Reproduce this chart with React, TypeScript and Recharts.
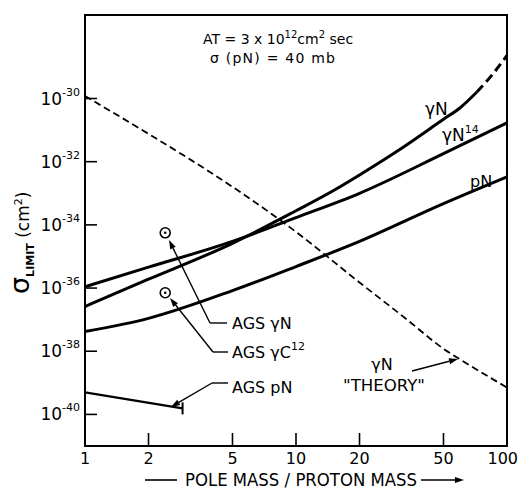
import React from "react";
import { ComposedChart, Line, Scatter, XAxis, YAxis, ReferenceArea } from "recharts";

// pole mass / proton mass on x, sigma limit (cm^2) on y
const X_TICKS = [1, 2, 5, 10, 20, 50, 100];
const Y_TICKS = [1e-30, 1e-32, 1e-34, 1e-36, 1e-38, 1e-40];
const Y_MIN = 1e-41;
const Y_MAX = 4.4e-28;

const GAMMA_N = [
  { m: 1, s: 2.6e-37 },
  { m: 2, s: 1.9e-36 },
  { m: 5, s: 2.6e-35 },
  { m: 10, s: 2.8e-34 },
  { m: 15, s: 1.2e-33 },
  { m: 20, s: 3.8e-33 },
  { m: 30, s: 2.1e-32 },
  { m: 50, s: 2.2e-31 },
  { m: 60, s: 5.1e-31 },
  { m: 72, s: 1.6e-30 },
];
const GAMMA_N_EXTRAP = [
  { m: 72, s: 1.6e-30 },
  { m: 85, s: 5.6e-30 },
  { m: 100, s: 2.3e-29 },
];
const GAMMA_N14 = [
  { m: 1, s: 1.1e-36 },
  { m: 2, s: 4.6e-36 },
  { m: 5, s: 3.0e-35 },
  { m: 10, s: 1.7e-34 },
  { m: 20, s: 1.0e-33 },
  { m: 50, s: 1.8e-32 },
  { m: 100, s: 1.7e-31 },
];
const P_N = [
  { m: 1, s: 4.2e-38 },
  { m: 2, s: 1.1e-37 },
  { m: 5, s: 8.3e-37 },
  { m: 10, s: 4.8e-36 },
  { m: 20, s: 3.0e-35 },
  { m: 50, s: 4.7e-34 },
  { m: 100, s: 3.3e-33 },
];
const THEORY = [
  { m: 1, s: 1.2e-30 },
  { m: 2, s: 7.6e-32 },
  { m: 3.2, s: 1.1e-32 },
  { m: 5, s: 1.6e-33 },
  { m: 10, s: 6.0e-35 },
  { m: 20, s: 1.5e-36 },
  { m: 33.6, s: 1.0e-37 },
  { m: 50, s: 1.2e-38 },
  { m: 60, s: 5.5e-39 },
  { m: 100, s: 7.1e-40 },
];
const AGS_GAMMA_N = [{ m: 2.4, s: 5.6e-35 }];
const AGS_GAMMA_C12 = [{ m: 2.4, s: 7.1e-37 }];
const AGS_P_N = [
  { m: 1, s: 5.0e-40 },
  { m: 2.9, s: 1.55e-40 },
];

const FONT = "'DejaVu Sans', sans-serif";

function XTick(props: any) {
  const { x, y, payload } = props;
  const v = payload.value;
  const inner = v !== 1 && v !== 100;
  return (
    <g>
      {inner && <line x1={x} y1={y} x2={x} y2={y - 13} stroke="#000" strokeWidth={1.6} />}
      <text
        x={v === 100 ? x + 11 : x}
        y={y + 18}
        textAnchor={v === 100 ? "end" : "middle"}
        fontSize={16}
        fontFamily={FONT}
        fill="#000"
      >
        {v}
      </text>
    </g>
  );
}

function YTick(props: any) {
  const { x, y, payload } = props;
  const exp = Math.round(Math.log10(payload.value));
  return (
    <g>
      <line x1={x} y1={y} x2={x + 12} y2={y} stroke="#000" strokeWidth={1.6} />
      <text x={x - 5} y={y + 6} textAnchor="end" fontFamily={FONT} fill="#000">
        <tspan fontSize={17}>10</tspan>
        <tspan fontSize={11} dy={-9}>{exp}</tspan>
      </text>
    </g>
  );
}

function CircleDot(props: any) {
  const { cx, cy } = props;
  return (
    <g>
      <circle cx={cx} cy={cy} r={5} fill="#fff" stroke="#000" strokeWidth={1.6} />
      <circle cx={cx} cy={cy} r={1.3} fill="#000" />
    </g>
  );
}

function EndBar(props: any) {
  const { cx, cy, index } = props;
  if (index !== AGS_P_N.length - 1) return <g key={"d" + index} />;
  return <line key={"d" + index} x1={cx} y1={cy - 6} x2={cx} y2={cy + 6} stroke="#000" strokeWidth={2} />;
}

function Arrow({ x1, y1, x2, y2 }: { x1: number; y1: number; x2: number; y2: number }) {
  const a = Math.atan2(y2 - y1, x2 - x1);
  const L = 9;
  const W = 3;
  const bx = x2 - L * Math.cos(a);
  const by = y2 - L * Math.sin(a);
  const px = -Math.sin(a) * W;
  const py = Math.cos(a) * W;
  return (
    <g>
      <line x1={x1} y1={y1} x2={bx} y2={by} stroke="#000" strokeWidth={1.4} />
      <polygon points={`${x2},${y2} ${bx + px},${by + py} ${bx - px},${by - py}`} fill="#000" />
    </g>
  );
}

export default function App() {
  return (
    <div style={{ position: "relative", width: 519, height: 490, background: "#fff" }}>
      <style>{`body{margin:0}`}</style>
      <ComposedChart width={519} height={490} margin={{ top: 15, right: 12, bottom: 14, left: 25 }}>
        <XAxis
          dataKey="m"
          type="number"
          scale="log"
          domain={[1, 100]}
          allowDataOverflow
          ticks={X_TICKS}
          interval={0}
          height={30}
          axisLine={false}
          tickLine={false}
          tickSize={0}
          tickMargin={0}
          tick={<XTick />}
        />
        <YAxis
          dataKey="s"
          type="number"
          scale="log"
          domain={[Y_MIN, Y_MAX]}
          allowDataOverflow
          ticks={Y_TICKS}
          interval={0}
          width={60}
          axisLine={false}
          tickLine={false}
          tickSize={0}
          tickMargin={0}
          tick={<YTick />}
        />
        <ReferenceArea x1={1} x2={100} y1={Y_MIN} y2={Y_MAX} fill="none" stroke="#000" strokeWidth={2} ifOverflow="visible" />
        <Line data={THEORY} dataKey="s" type="monotone" stroke="#000" strokeWidth={1.8} strokeDasharray="7 4" dot={false} isAnimationActive={false} />
        <Line data={P_N} dataKey="s" type="monotone" stroke="#000" strokeWidth={3} dot={false} isAnimationActive={false} />
        <Line data={GAMMA_N14} dataKey="s" type="monotone" stroke="#000" strokeWidth={3} dot={false} isAnimationActive={false} />
        <Line data={GAMMA_N} dataKey="s" type="monotone" stroke="#000" strokeWidth={3} dot={false} isAnimationActive={false} />
        <Line data={GAMMA_N_EXTRAP} dataKey="s" type="monotone" stroke="#000" strokeWidth={3} strokeDasharray="9 5" dot={false} isAnimationActive={false} />
        <Line data={AGS_P_N} dataKey="s" type="linear" stroke="#000" strokeWidth={2.4} dot={<EndBar />} isAnimationActive={false} />
        <Scatter data={AGS_GAMMA_N} dataKey="s" shape={<CircleDot />} isAnimationActive={false} />
        <Scatter data={AGS_GAMMA_C12} dataKey="s" shape={<CircleDot />} isAnimationActive={false} />
      </ComposedChart>

      <svg width={519} height={490} style={{ position: "absolute", left: 0, top: 0, pointerEvents: "none" }} fontFamily={FONT} fill="#000">
        {/* header */}
        <text x={203} y={44} fontSize={14}>
          AT = 3 x 10<tspan fontSize={10} dy={-6}>12</tspan>
          <tspan dy={6}>cm</tspan>
          <tspan fontSize={10} dy={-6}>2</tspan>
          <tspan dy={6}> sec</tspan>
        </text>
        <text x={210} y={63} fontSize={14} textLength={125} lengthAdjust="spacing">
          σ (pN) = 40 mb
        </text>

        {/* curve labels */}
        <text x={425} y={115} fontSize={17}>γN</text>
        <text x={442} y={141} fontSize={17}>
          γN<tspan fontSize={11} dy={-8}>14</tspan>
        </text>
        <text x={470} y={187} fontSize={16}>pN</text>

        {/* AGS labels and leaders */}
        <text x={232} y={329} fontSize={16}>AGS  γN</text>
        <text x={232} y={358} fontSize={16}>
          AGS  γC<tspan fontSize={11} dy={-8}>12</tspan>
        </text>
        <text x={232} y={393} fontSize={16}>AGS  pN</text>
        <line x1={210} y1={323} x2={227} y2={323} stroke="#000" strokeWidth={1.4} />
        <Arrow x1={210} y1={323} x2={169} y2={240} />
        <line x1={213} y1={352} x2={228} y2={352} stroke="#000" strokeWidth={1.4} />
        <Arrow x1={213} y1={352} x2={170} y2={298} />
        <line x1={212} y1={383} x2={228} y2={383} stroke="#000" strokeWidth={1.4} />
        <Arrow x1={212} y1={383} x2={171} y2={407} />

        {/* theory label */}
        <text x={382} y={370} fontSize={16} textAnchor="middle">γN</text>
        <text x={384} y={391} fontSize={16} textAnchor="middle" textLength={82} lengthAdjust="spacingAndGlyphs">
          "THEORY"
        </text>
        <Arrow x1={412} y1={371} x2={458} y2={359} />

        {/* axis titles */}
        <g transform="translate(29,294) rotate(-90)">
          <text x={0} y={0} fontSize={27}>
            σ
            <tspan fontSize={11} fontWeight="bold" dy={5}>LIMIT</tspan>
            <tspan fontSize={17} dy={-5}> (cm</tspan>
            <tspan fontSize={11} dy={-7}>2</tspan>
            <tspan fontSize={17} dy={7}>)</tspan>
          </text>
        </g>
        <line x1={145} y1={480} x2={177} y2={480} stroke="#000" strokeWidth={1.6} />
        <text x={185} y={486} fontSize={17} textLength={232} lengthAdjust="spacingAndGlyphs">
          POLE MASS / PROTON MASS
        </text>
        <Arrow x1={421} y1={480} x2={464} y2={480} />
      </svg>
    </div>
  );
}
